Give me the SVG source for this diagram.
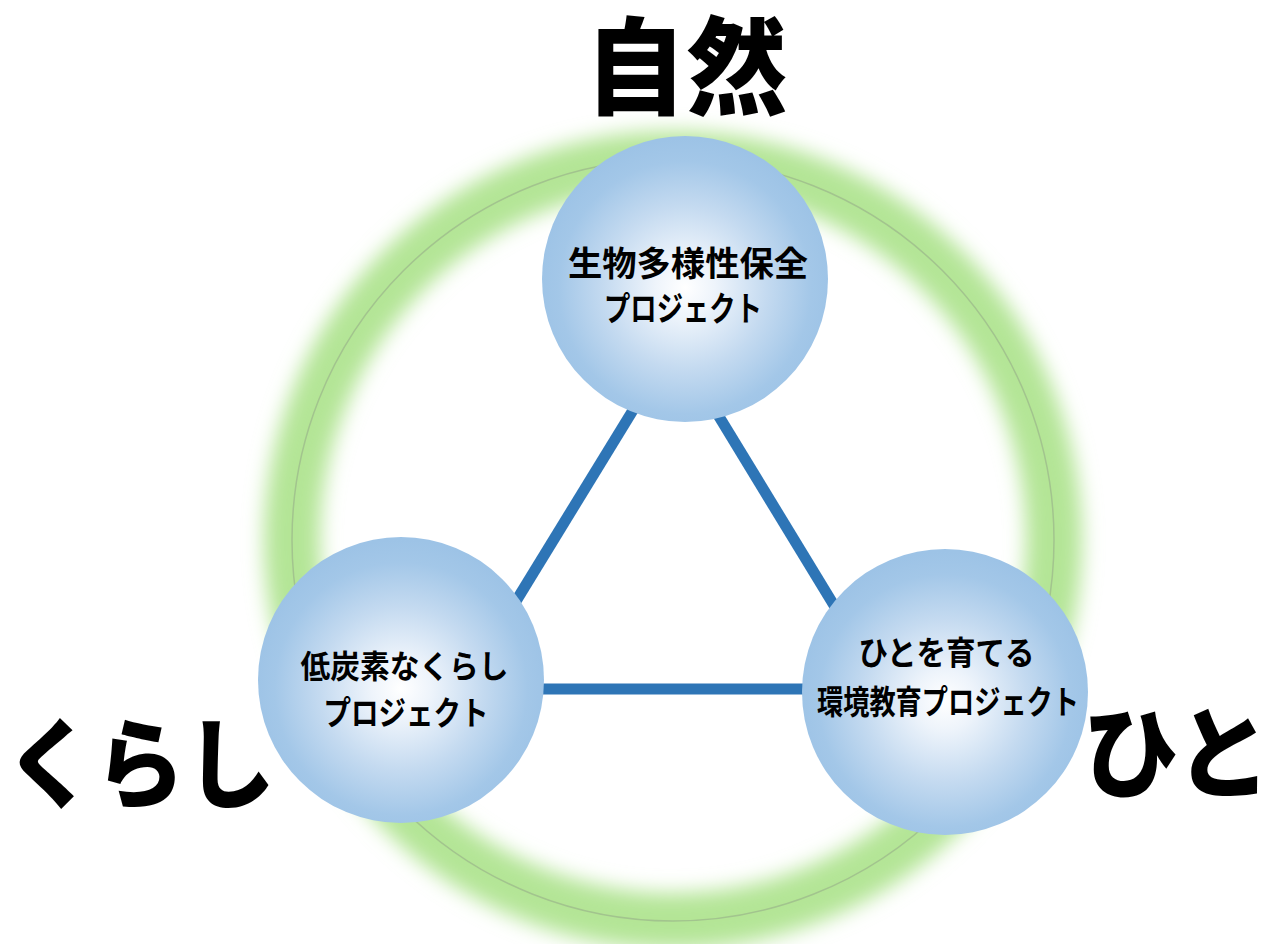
<svg xmlns="http://www.w3.org/2000/svg" width="1271" height="944" viewBox="0 0 1271 944">
<defs>
<radialGradient id="ball" cx="50%" cy="53%" r="52%">
<stop offset="0" stop-color="#ffffff"/>
<stop offset="0.2" stop-color="#eef4fb"/>
<stop offset="0.55" stop-color="#c4daf0"/>
<stop offset="0.85" stop-color="#a3c7e8"/>
<stop offset="1" stop-color="#9dc3e6"/>
</radialGradient>
<filter id="glow" filterUnits="userSpaceOnUse" x="150" y="60" width="1050" height="960">
<feGaussianBlur stdDeviation="10"/>
</filter>
</defs>
<style>
.lbl{font-family:"Noto Sans CJK JP","Noto Sans CJK SC",sans-serif;font-weight:700;fill:#000;text-anchor:middle}
.big{font-family:"Noto Sans CJK JP","Noto Sans CJK SC",sans-serif;font-weight:900;fill:#000;text-anchor:middle}
.conn{stroke:#2e75b6;stroke-width:11;fill:none}
.node{fill:url(#ball)}
</style>
<rect width="1271" height="944" fill="#ffffff"/>
<g id="ring">
<circle cx="673" cy="540" r="381" fill="none" stroke="#b4e596" stroke-width="56" filter="url(#glow)"/>
<circle cx="673" cy="540" r="381" fill="none" stroke="#a2c48e" stroke-width="1.5"/>
</g>
<g id="connectors">
<line class="conn" x1="665.6" y1="357" x2="486" y2="650"/>
<line class="conn" x1="687.6" y1="365" x2="860" y2="648"/>
<line class="conn" x1="480" y1="689" x2="870" y2="689"/>
</g>
<g id="node-biodiversity">
<circle class="node" cx="685" cy="279" r="143"/>
<text class="lbl" x="688" y="276" font-size="34" textLength="240" lengthAdjust="spacingAndGlyphs">生物多様性保全</text>
<text class="lbl" x="683" y="321" font-size="34" textLength="158" lengthAdjust="spacingAndGlyphs">プロジェクト</text>
</g>
<g id="node-lowcarbon">
<circle class="node" cx="401" cy="680" r="143"/>
<text class="lbl" x="404.5" y="678" font-size="32" textLength="208" lengthAdjust="spacingAndGlyphs">低炭素なくらし</text>
<text class="lbl" x="406" y="725" font-size="33" textLength="165" lengthAdjust="spacingAndGlyphs">プロジェクト</text>
</g>
<g id="node-education">
<circle class="node" cx="945" cy="692" r="143"/>
<text class="lbl" x="946.5" y="665" font-size="33" textLength="176" lengthAdjust="spacingAndGlyphs">ひとを育てる</text>
<text class="lbl" x="948" y="714" font-size="33" textLength="262" lengthAdjust="spacingAndGlyphs">環境教育プロジェクト</text>
</g>
<g id="label-nature">
<text class="big" x="686" y="106" font-size="106" textLength="202" lengthAdjust="spacingAndGlyphs">自然</text>
</g>
<g id="label-kurashi">
<text class="big" x="140" y="800" font-size="98" textLength="270" lengthAdjust="spacingAndGlyphs">くらし</text>
</g>
<g id="label-hito">
<text class="big" x="1177" y="790" font-size="100" textLength="188" lengthAdjust="spacingAndGlyphs">ひと</text>
</g>
</svg>
